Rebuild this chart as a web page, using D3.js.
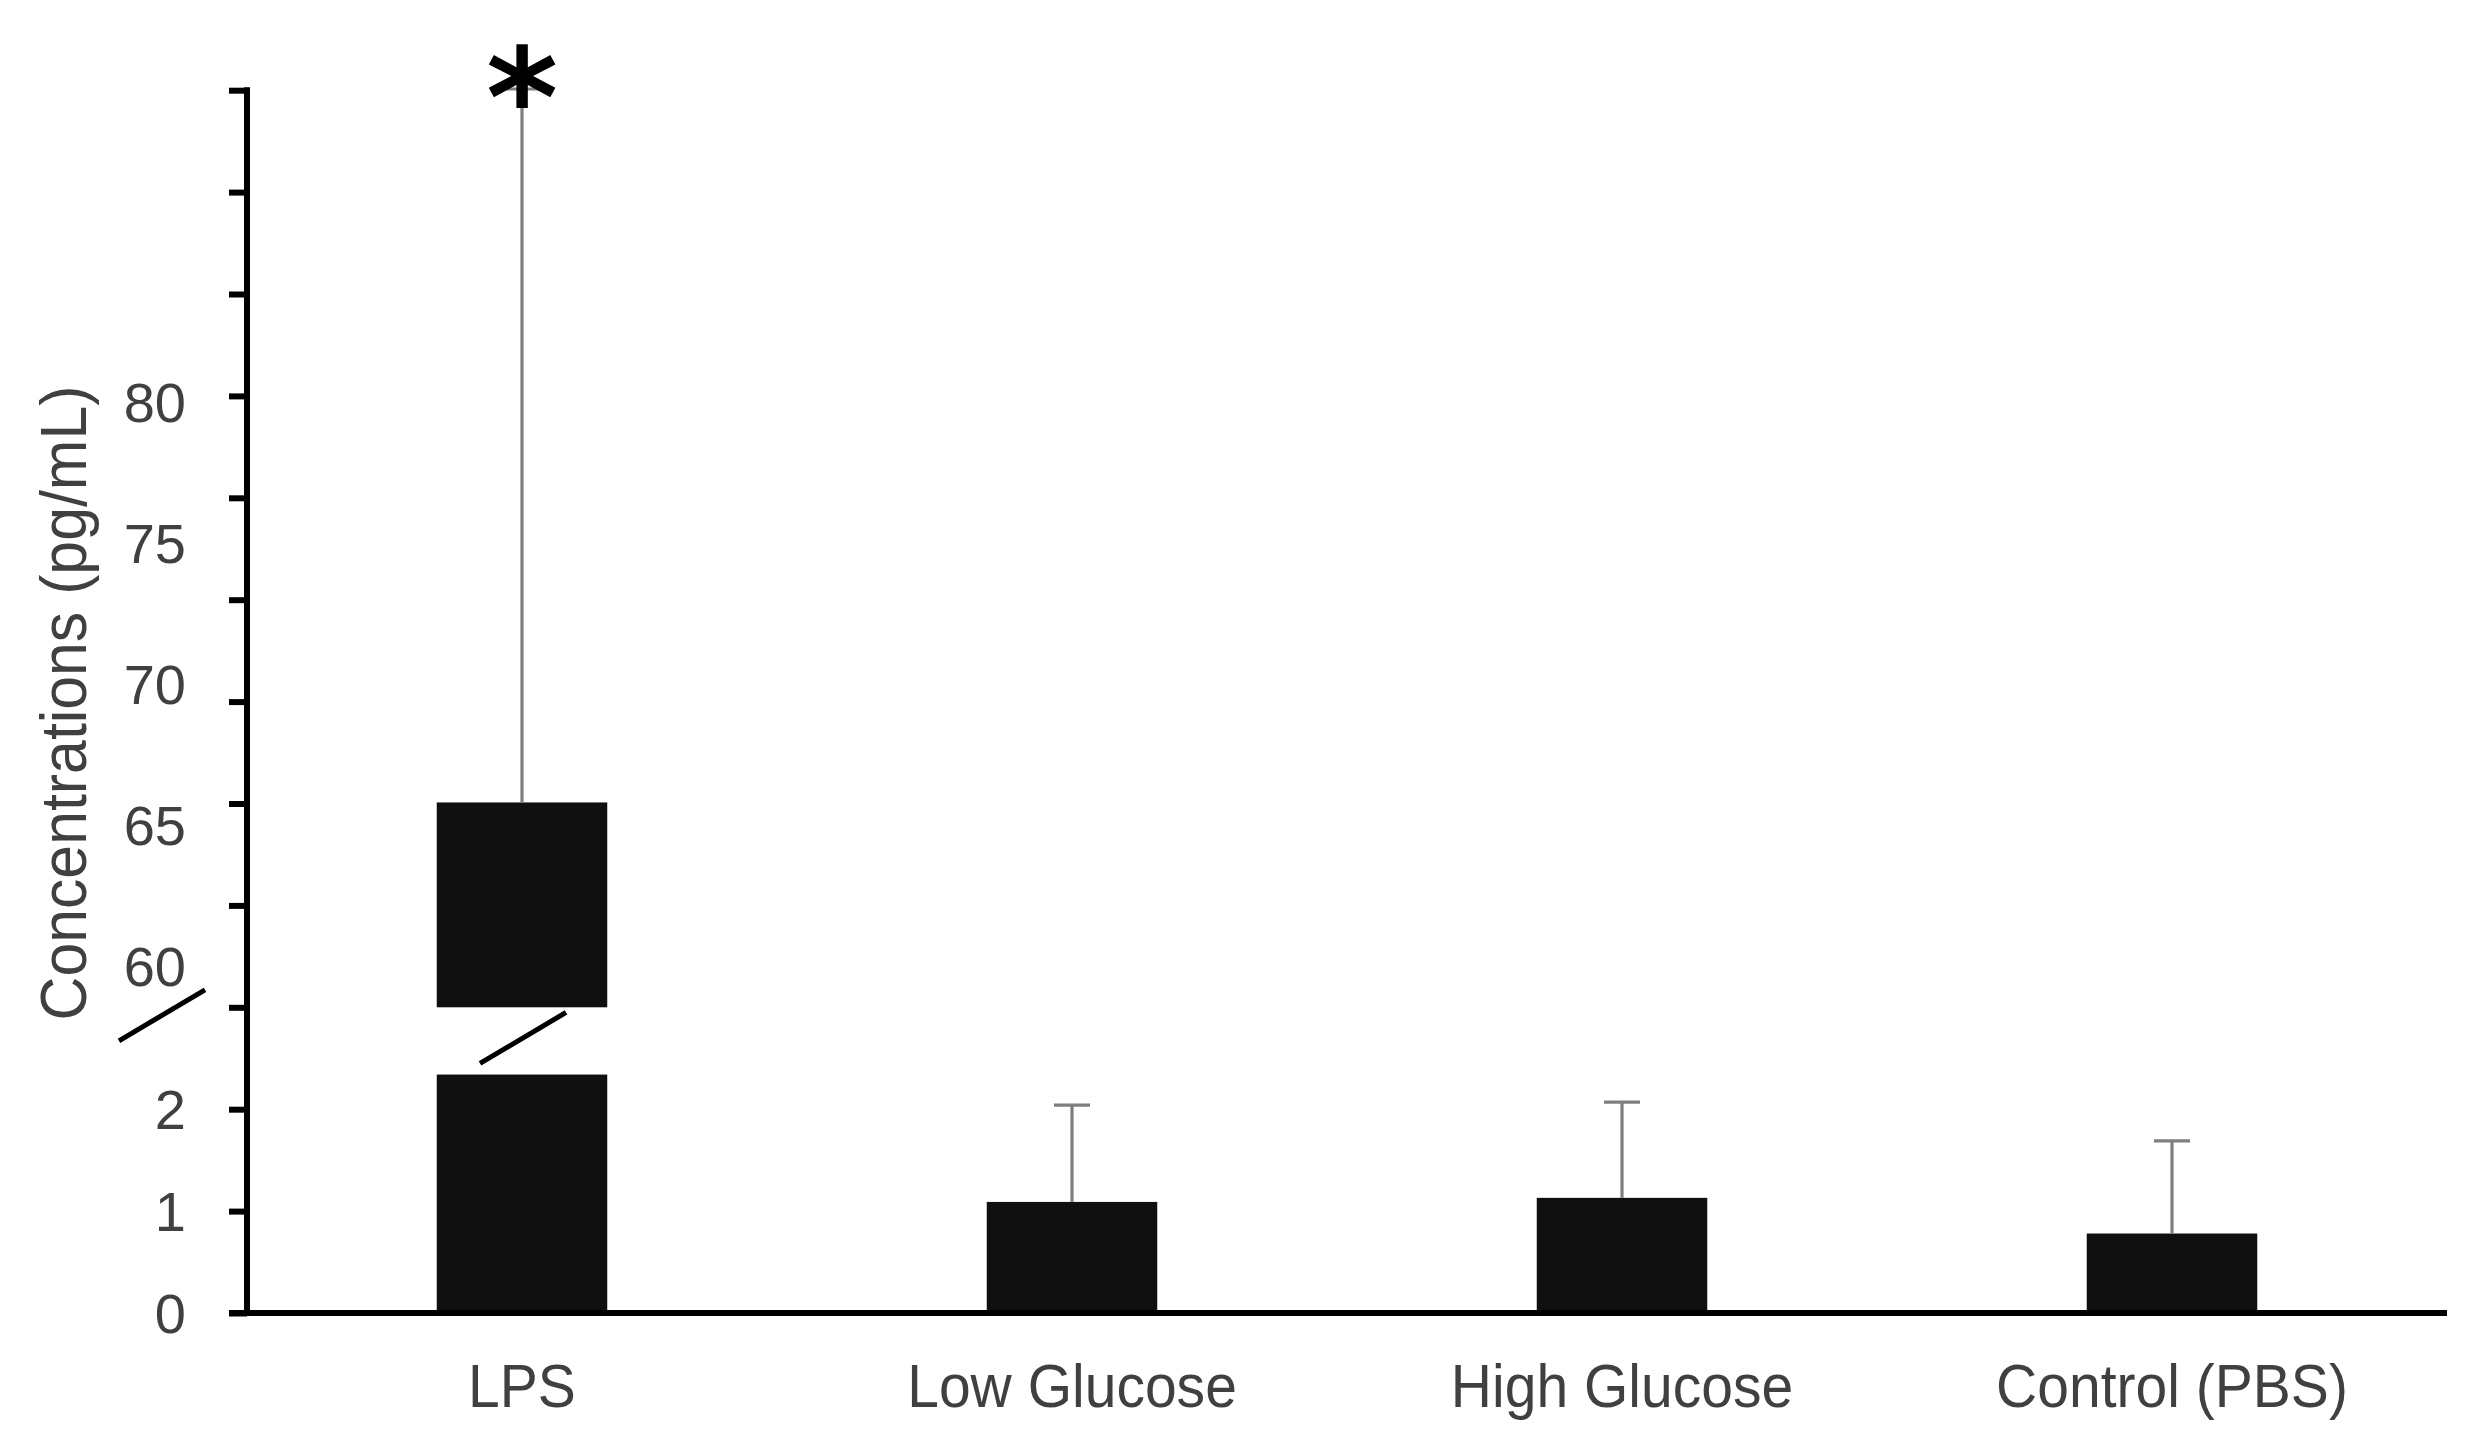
<!DOCTYPE html>
<html>
<head>
<meta charset="utf-8">
<script src="https://cdn.jsdelivr.net/npm/d3@7"></script>
<style>
  html, body { margin: 0; padding: 0; background: #ffffff; }
  svg { display: block; }
</style>
</head>
<body>
<script>
// ---------- data ----------
const categories = ["LPS", "Low Glucose", "High Glucose", "Control (PBS)"];
const meanValues = [65.8, 1.09, 1.13, 0.78];      // bar heights (pg/mL)
const errorTops  = [91.1, 2.04, 2.07, 1.69];      // top of error bar (pg/mL)
const lowerTickLabels = [0, 1, 2];
const upperTickLabels = [60, 65, 70, 75, 80];
const lowerSegmentMax = 2.34;   // where the LPS bar is cut below the break
const upperSegmentMin = 58.6;   // where the LPS bar resumes above the break
const significance = ["*", "", "", ""];
const yTitle = "Concentrations (pg/mL)";

// ---------- layout ----------
const W = 2470, H = 1448;
const axisX = 247, axisRight = 2447;
const baseY = 1313, unitPx = 101.9;
const textColor = "#404040";
const barColor = "#0f0f0f";

const svg = d3.select("body").append("svg")
  .attr("width", W).attr("height", H)
  .attr("font-family", "'Liberation Sans', Arial, sans-serif");
svg.append("rect").attr("width", W).attr("height", H).attr("fill", "#fff");

const x = d3.scaleBand().domain(categories)
  .range([axisX, axisRight]).paddingInner(0.69).paddingOuter(0.345);

// lower segment scale (0..2 and tick grid extension)
const yLow = d3.scaleLinear().domain([0, 1]).range([baseY, baseY - unitPx]);
// upper segment scale (labelled 60..80)
const yUp = d3.scaleLinear().domain([60, 80]).range([966, 402]);

const breakY = yLow(3);
const topY = yLow(12);
const isUpper = v => v > lowerSegmentMax;
const yOf = v => isUpper(v) ? yUp(v) : yLow(v);

// ---------- y axis (tick marks) ----------
const yAxisG = svg.append("g").attr("transform", `translate(${axisX},0)`)
  .call(d3.axisLeft(yLow).tickValues(d3.range(0, 13)).tickFormat("").tickSize(18).tickSizeOuter(0));
yAxisG.select(".domain").remove();
yAxisG.selectAll(".tick line").attr("stroke", "#000").attr("stroke-width", 6);
svg.append("line").attr("x1", axisX).attr("x2", axisX)
  .attr("y1", topY - 3).attr("y2", baseY + 3)
  .attr("stroke", "#000").attr("stroke-width", 6);

// tick labels
const lblFont = 56;
svg.append("g").selectAll("text").data(lowerTickLabels).join("text")
  .attr("x", 186).attr("y", d => yLow(d)).attr("dy", "0.36em")
  .attr("text-anchor", "end").attr("font-size", lblFont).attr("fill", textColor)
  .text(d => d);
svg.append("g").selectAll("text").data(upperTickLabels).join("text")
  .attr("x", 186).attr("y", d => yUp(d)).attr("dy", "0.36em")
  .attr("text-anchor", "end").attr("font-size", lblFont).attr("fill", textColor)
  .text(d => d);

// axis break slash
const slashDX = 43, slashDY = 25.5;
const axSlashX = axisX - 85, axSlashY = breakY + 8;
svg.append("line")
  .attr("x1", axSlashX - slashDX).attr("y1", axSlashY + slashDY)
  .attr("x2", axSlashX + slashDX).attr("y2", axSlashY - slashDY)
  .attr("stroke", "#000").attr("stroke-width", 5);

// y title
svg.append("text")
  .attr("transform", `translate(86, 703) rotate(-90)`)
  .attr("text-anchor", "middle").attr("font-size", 64).attr("fill", textColor)
  .attr("textLength", 635).attr("lengthAdjust", "spacingAndGlyphs")
  .text(yTitle);

// ---------- bars ----------
const bars = svg.append("g");
categories.forEach((c, i) => {
  const v = meanValues[i];
  const x0 = x(c), bw = x.bandwidth();
  if (isUpper(v)) {
    bars.append("rect").attr("x", x0).attr("width", bw)
      .attr("y", yLow(lowerSegmentMax)).attr("height", baseY - yLow(lowerSegmentMax))
      .attr("fill", barColor);
    bars.append("rect").attr("x", x0).attr("width", bw)
      .attr("y", yUp(v)).attr("height", breakY - yUp(v))
      .attr("fill", barColor);
    const cx = x0 + bw / 2, cy = (yLow(lowerSegmentMax) + breakY) / 2 - 2;
    bars.append("line")
      .attr("x1", cx - slashDX + 1).attr("y1", cy + slashDY - 1)
      .attr("x2", cx + slashDX + 1).attr("y2", cy - slashDY - 1)
      .attr("stroke", "#000").attr("stroke-width", 5);
  } else {
    bars.append("rect").attr("x", x0).attr("width", bw)
      .attr("y", yLow(v)).attr("height", baseY - yLow(v))
      .attr("fill", barColor);
  }
});

// ---------- error bars ----------
const err = svg.append("g").attr("stroke", "#7f7f7f").attr("stroke-width", 3.2);
categories.forEach((c, i) => {
  const cx = x(c) + x.bandwidth() / 2;
  const yTop = yOf(errorTops[i]);
  err.append("line").attr("x1", cx).attr("x2", cx)
    .attr("y1", yOf(meanValues[i])).attr("y2", yTop);
  err.append("line").attr("x1", cx - 18).attr("x2", cx + 18)
    .attr("y1", yTop).attr("y2", yTop);
});

// x axis line
svg.append("line").attr("x1", axisX - 18).attr("x2", axisRight)
  .attr("y1", baseY).attr("y2", baseY)
  .attr("stroke", "#000").attr("stroke-width", 6);

// category labels
svg.append("g").selectAll("text").data(categories).join("text")
  .attr("transform", d => `translate(${x(d) + x.bandwidth() / 2}, 1407) scale(0.92,1)`)
  .attr("text-anchor", "middle").attr("font-size", 62).attr("fill", textColor)
  .text(d => d);

// significance marks
svg.append("g").selectAll("text").data(categories).join("text")
  .attr("x", d => x(d) + x.bandwidth() / 2)
  .attr("y", (d, i) => yOf(errorTops[i]) + 57)
  .attr("text-anchor", "middle").attr("font-size", 138).attr("font-weight", "bold")
  .attr("font-family", "'DejaVu Sans', sans-serif")
  .attr("fill", "#000")
  .text((d, i) => significance[i]);
</script>
</body>
</html>
